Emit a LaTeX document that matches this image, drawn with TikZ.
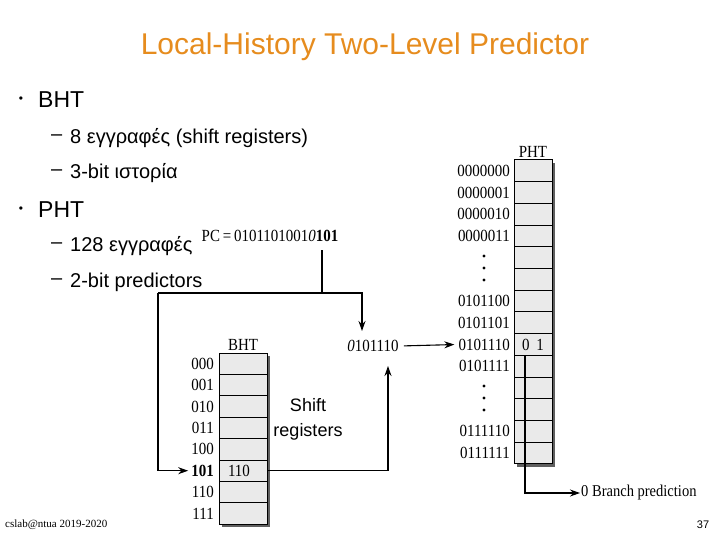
\documentclass[tikz,border=0pt]{standalone}
\usepackage{fontspec}
\setmainfont{Liberation Serif}
\newfontfamily\slidesans{Liberation Sans}
\newfontfamily\figfont[FakeStretch=0.88]{Liberation Serif}
\usetikzlibrary{arrows.meta,positioning}
\definecolor{titleorange}{RGB}{230,140,30}
\definecolor{cellgray}{RGB}{234,234,234}
\definecolor{shadowgray}{RGB}{95,95,95}
\tikzset{
  cell/.style={draw=black, fill=cellgray, line width=1pt, minimum width=38pt,
    minimum height=21.7pt, inner sep=0pt, outer sep=0pt, font=\figfont\fontsize{17}{17}\selectfont},
  bhtcell/.style={cell, minimum width=48pt, minimum height=21.4pt},
  rowlabel/.style={font=\figfont\fontsize{17}{17}\selectfont, inner sep=0pt},
  figtext/.style={font=\figfont\fontsize{17}{17}\selectfont, inner sep=1pt},
  wire/.style={line width=1.1pt},
  feed/.style={wire, -{Stealth[length=10pt,width=7pt]}},
  level1/.style={anchor=west, inner sep=0pt, font=\slidesans\fontsize{23}{23}\selectfont},
  level2/.style={anchor=west, inner sep=0pt, font=\slidesans\fontsize{20}{20}\selectfont},
}

\begin{document}
\begin{tikzpicture}[x=1pt,y=-1pt]
  \useasboundingbox (0,0) rectangle (720,540);

  \node[font=\slidesans\fontsize{30}{30}\selectfont, text=titleorange] (title) at (365,47)
    {Local-History Two-Level Predictor};

  % bullets
  \foreach \ypos/\txt in {100/BHT, 210/PHT}
  {
    \node[inner sep=0pt, font=\slidesans\fontsize{12}{12}\selectfont] (dot\ypos) at (21,\ypos) {•};
    \node[level1] (main\ypos) at (38,\ypos) {\txt};
  }
  \foreach \ypos/\txt in {138/{8 εγγραφές (shift registers)}, 173/{3-bit ιστορία},
                          246/{128 εγγραφές}, 282/{2-bit predictors}}
  {
    \node[level2] (dash\ypos) at (51,\ypos) {–};
    \node[level2] (sub\ypos) at (70,\ypos) {\txt};
  }

  % PHT
  \fill[shadowgray] (517,163) rectangle (555,467);
  \foreach \i in {0,...,13}
    \node[cell] (p\i) at (533,{160+21.7*(\i+0.5)}) {};
  \node[cell] at (p8) {0\hspace{7pt}1};
  \node[figtext, above=1pt of p0] (phttitle) {PHT};
  \foreach \i/\lab in {0/0000000, 1/0000001, 2/0000010, 3/0000011, 6/0101100,
                       7/0101101, 8/0101110, 9/0101111, 12/0111110, 13/0111111}
    \node[rowlabel, left=4pt of p\i] (pl\i) {\lab};
  \foreach \ypos in {256,268,280,386,398,410}
    \fill (484,\ypos) circle (1.7);

  % BHT
  \fill[shadowgray] (222,356) rectangle (270,527);
  \foreach \i in {0,...,7}
    \node[bhtcell] (b\i) at (243,{353+21.4*(\i+0.5)}) {};
  \node[bhtcell] at (b5) {\hspace{-8pt}110};
  \node[figtext, above=1pt of b0] (bhttitle) {BHT};
  \foreach \i/\lab in {0/000, 1/001, 2/010, 3/011, 4/100, 5/\textbf{101}, 6/110, 7/111}
    \node[rowlabel, left=5pt of b\i] (bl\i) {\lab};

  % addresses
  \node[figtext] (pc) at (270,236) {PC\,=\,0101101001\textit{0}\textbf{101}};
  \node[figtext] (idx) at (373,346) {\textit{0}101110};
  \node[figtext, anchor=west, font=\figfont\fontsize{16.5}{16.5}\selectfont] (pred) at (580,493) {0 Branch prediction};
  \node[align=center, font=\slidesans\fontsize{18}{25}\selectfont] (shift) at (308,419) {Shift\\registers};

  \coordinate (pctap) at (322,250);
  \coordinate (split) at (322,293);
  \coordinate (loopleft) at (158,293);
  \coordinate (loopright) at (362,293);
  \coordinate (idxtop) at (362,331);
  \coordinate (shiftup) at (388,366);
  \coordinate (bitsel) at (525,355);

  \draw[wire] (pctap) -- (split);
  \draw[feed] (loopleft) -- (loopright) -- (idxtop);
  \draw[feed, shorten >=3pt] (loopleft) |- (bl5.west);
  \draw[feed] (b5.east) -| (shiftup);
  \draw[feed, shorten <=4pt, shorten >=4pt] (idx.east) -- (pl8.west);
  \draw[feed] (bitsel) |- (pred.west);

  \node[font=\fontsize{11}{11}\selectfont, anchor=west, inner sep=0pt] (foot) at (5,525) {cslab@ntua 2019-2020};
  \node[font=\slidesans\fontsize{11}{11}\selectfont] (page) at (703,525) {37};
\end{tikzpicture}
\end{document}
